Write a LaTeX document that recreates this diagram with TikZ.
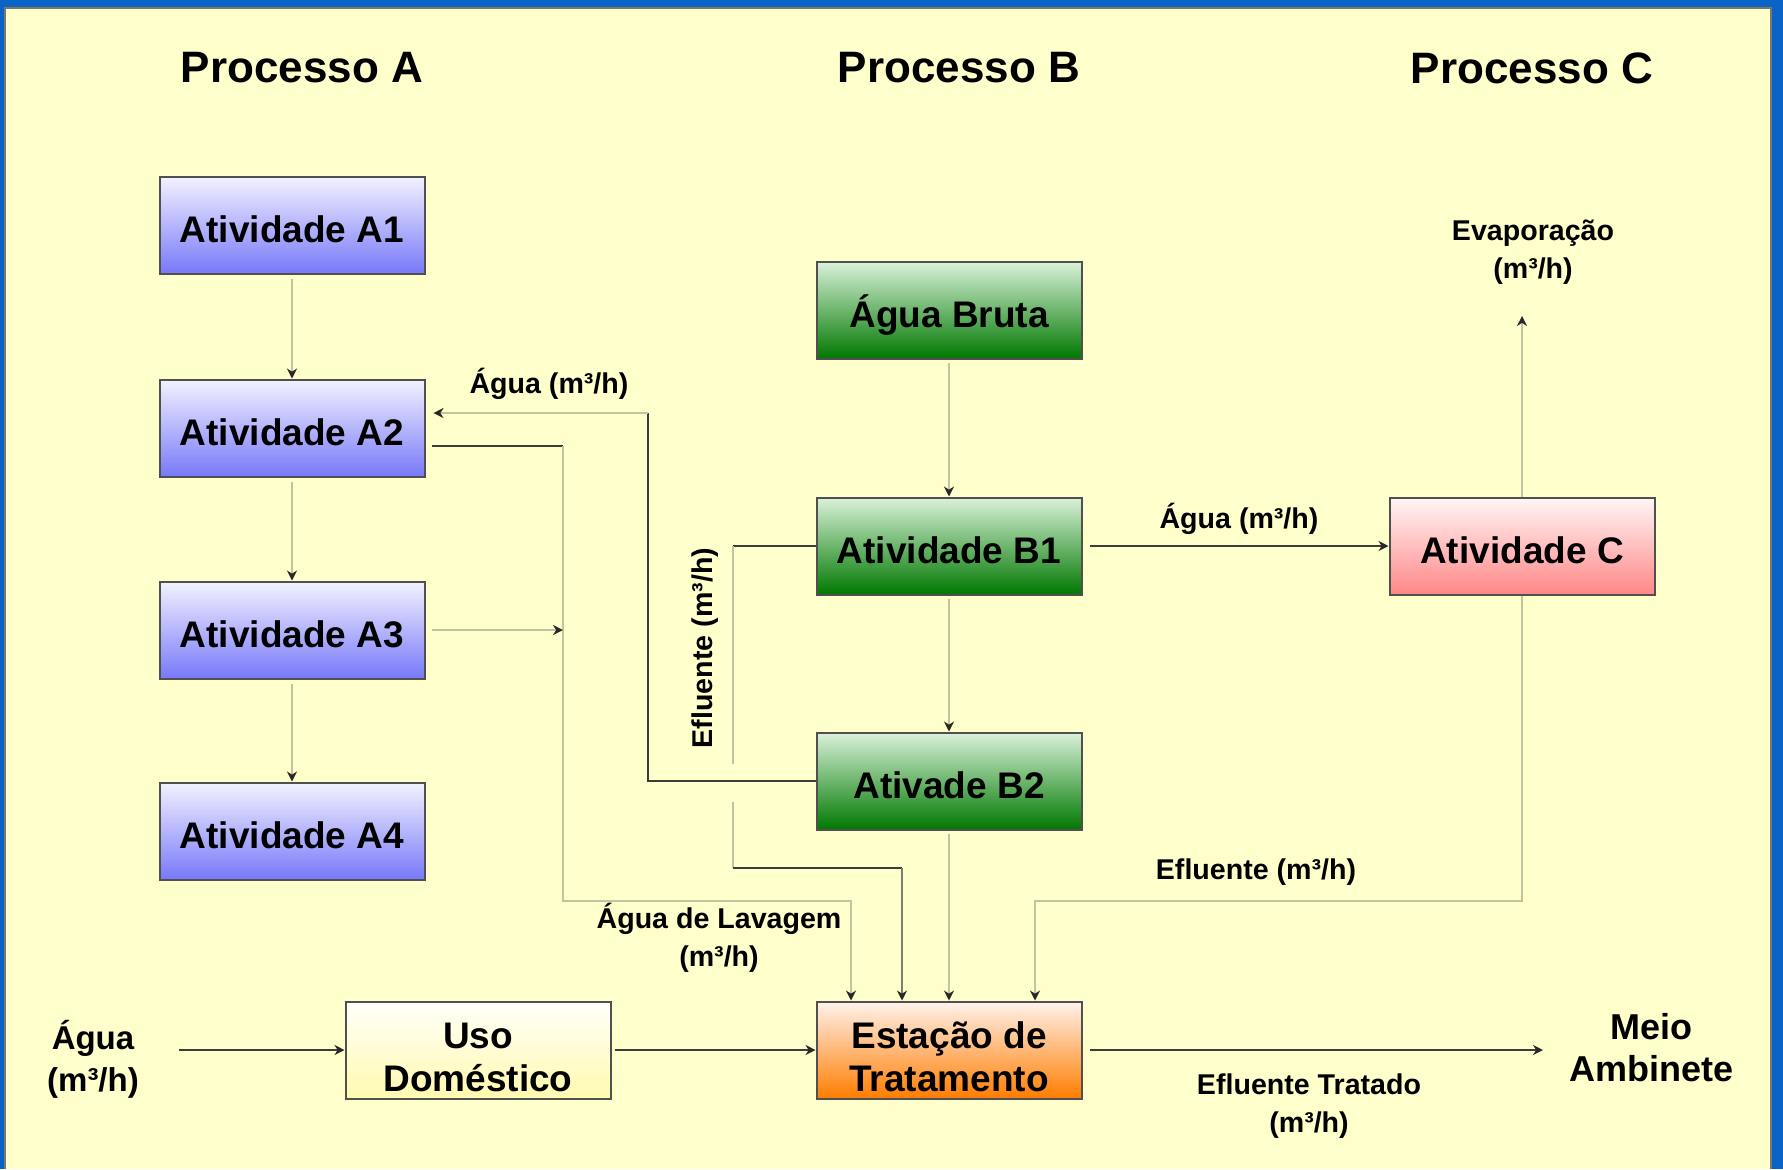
\documentclass[tikz,border=0pt]{standalone}
\usepackage{fontspec}
\setmainfont{Liberation Sans}
\usetikzlibrary{arrows.meta}
\definecolor{panel}{RGB}{255,255,204}
\definecolor{bgblue}{RGB}{10,100,200}
\definecolor{paneledge}{RGB}{120,120,100}
\definecolor{boxedge}{RGB}{80,80,80}
\definecolor{darkline}{RGB}{60,60,60}
\definecolor{midline}{RGB}{125,125,110}
\definecolor{lightline}{RGB}{195,195,160}
\definecolor{tipcol}{RGB}{40,40,40}
\begin{document}
\begin{tikzpicture}[x=0.5pt,y=-0.5pt,
  box/.style={draw=boxedge, line width=1pt, minimum width=132.5pt, minimum height=48.5pt,
    inner sep=0pt, align=center, text=black, text height=17pt, text depth=0pt,
    font=\fontsize{18.5}{21.5}\selectfont\bfseries},
  boxtext/.style={inner sep=0pt, align=center, text=black, font=\fontsize{18.5}{21.5}\selectfont\bfseries},
  abox/.style={box, top color={rgb,255:red,242;green,242;blue,255}, bottom color={rgb,255:red,120;green,120;blue,250}},
  gbox/.style={box, top color={rgb,255:red,218;green,242;blue,218}, middle color={rgb,255:red,70;green,172;blue,70}, bottom color={rgb,255:red,0;green,120;blue,0}},
  cbox/.style={box, top color={rgb,255:red,255;green,246;blue,246}, bottom color={rgb,255:red,255;green,135;blue,135}},
  ebox/.style={box, top color={rgb,255:red,255;green,242;blue,236}, bottom color={rgb,255:red,255;green,125;blue,0}},
  ubox/.style={box, top color={rgb,255:red,255;green,255;blue,250}, bottom color={rgb,255:red,255;green,250;blue,175}},
  ptitle/.style={inner sep=0pt, font=\fontsize{22}{26}\selectfont\bfseries},
  lbl/.style={inner sep=0pt, align=center, font=\fontsize{14.3}{19}\selectfont\bfseries},
  inlbl/.style={inner sep=0pt, align=center, font=\fontsize{16.5}{21}\selectfont\bfseries},
  meio/.style={inner sep=0pt, align=center, font=\fontsize{18}{21}\selectfont\bfseries},
  dk/.style={draw=darkline, line width=1.2pt},
  md/.style={draw=midline, line width=1.1pt},
  lt/.style={draw=lightline, line width=1.1pt},
  arr/.style={-{Stealth[length=5pt,width=5pt,inset=1.6pt,color=tipcol]}}
]
\useasboundingbox (0,0) rectangle (1783,1169);
\fill[bgblue] (0,0) rectangle (1783,1169);
\fill[panel] (5,8) rectangle (1771,1169);
\draw[paneledge, line width=1.2pt] (5,1169) -- (5,8) -- (1771,8) -- (1771,1169);

% titles
\node[ptitle] (PA) at (302,68) {Processo A};
\node[ptitle] (PB) at (959,68) {Processo B};
\node[ptitle] (PC) at (1532,68) {Processo C};

% boxes
\node[abox] (A1) at (292,225) {Atividade A1};
\node[abox] (A2) at (292,428) {Atividade A2};
\node[abox] (A3) at (292,630) {Atividade A3};
\node[abox] (A4) at (292,831) {Atividade A4};
\node[gbox] (AB) at (949,310) {Água Bruta};
\node[gbox] (B1) at (949,546) {Atividade B1};
\node[gbox] (B2) at (949,781) {Ativade B2};
\node[cbox] (C) at (1522,546) {Atividade C};
\node[ubox, label={[boxtext, yshift=-3.5pt]center:Uso\\Doméstico}] (U) at (478,1050) {};
\node[ebox, label={[boxtext, yshift=-3.5pt]center:Estação de\\Tratamento}] (E) at (949,1050) {};

% labels
\node[lbl] (LA2) at (549,384) {Água (m³/h)};
\node[lbl] (LB1C) at (1239,519) {Água (m³/h)};
\node[lbl] (LEv) at (1533,252) {Evaporação\\(m³/h)};
\node[lbl, rotate=90] (LEf) at (705,648) {Efluente (m³/h)};
\node[lbl] (LEfC) at (1256,872) {Efluente (m³/h)};
\node[lbl] (LLav) at (719,938) {Água de Lavagem\\(m³/h)};
\node[lbl] (LTr) at (1309,1106) {Efluente Tratado\\(m³/h)};
\node[inlbl] (LAg) at (93,1059) {Água\\(m³/h)};
\node[meio] (M) at (1651,1048) {Meio\\Ambinete};

% coordinates
\coordinate (inA) at (179,1050);
\coordinate (outM) at (1543,1050);
\coordinate (ev) at (1522,316);
\coordinate (c1) at (1522,901);
\coordinate (c2) at (1035,901);
\coordinate (b1) at (733,546);
\coordinate (b2) at (733,764);
\coordinate (b3) at (733,802);
\coordinate (b4) at (733,868);
\coordinate (b5) at (902,868);
\coordinate (w1) at (648,781);
\coordinate (w2) at (648,413);
\coordinate (l1) at (563,446);
\coordinate (l2) at (563,901);
\coordinate (l3) at (851,901);
\coordinate (a3t) at (563,630);

% column A
\draw[lt,arr,shorten <=2pt] (A1.south) -- (A2.north);
\draw[lt,arr,shorten <=2pt] (A2.south) -- (A3.north);
\draw[lt,arr,shorten <=2pt] (A3.south) -- (A4.north);

% column B
\draw[lt,arr,shorten <=1.5pt] (AB.south) -- (B1.north);
\draw[lt,arr,shorten <=1.5pt] (B1.south) -- (B2.north);
\draw[lt,arr,shorten <=1.5pt] (B2.south) -- (E.north);

% B2 -> A2 (water)
\draw[dk] (B2.west) -- (w1) -- (w2);
\draw[lt,arr,shorten >=4pt] (w2) -- (w2 -| A2.east);

% A2 -> E (washing water)
\draw[dk,shorten <=3pt] (A2.east |- l1) -- (l1);
\draw[lt,arr] (l1) -- (l2) -- (l3) -- (l3 |- E.north);

% A3 -> line
\draw[lt,arr,shorten <=3pt] (A3.east) -- (a3t);

% B1 -> E (effluent)
\draw[dk] (B1.west) -- (b1);
\draw[lt] (b1) -- (b2) (b3) -- (b4);
\draw[dk] (b4) -- (b5);
\draw[md,arr] (b5) -- (b5 |- E.north);

% B1 -> C
\draw[dk,arr,shorten <=3.5pt] (B1.east) -- (C.west);

% C -> evaporation, C -> E
\draw[lt,arr] (C.north) -- (ev);
\draw[lt,arr] (C.south) -- (c1) -- (c2) -- (c2 |- E.north);

% bottom row
\draw[dk,arr] (inA) -- (U.west);
\draw[dk,arr,shorten <=1.5pt] (U.east) -- (E.west);
\draw[dk,arr,shorten <=3.5pt] (E.east) -- (outM);
\end{tikzpicture}
\end{document}
